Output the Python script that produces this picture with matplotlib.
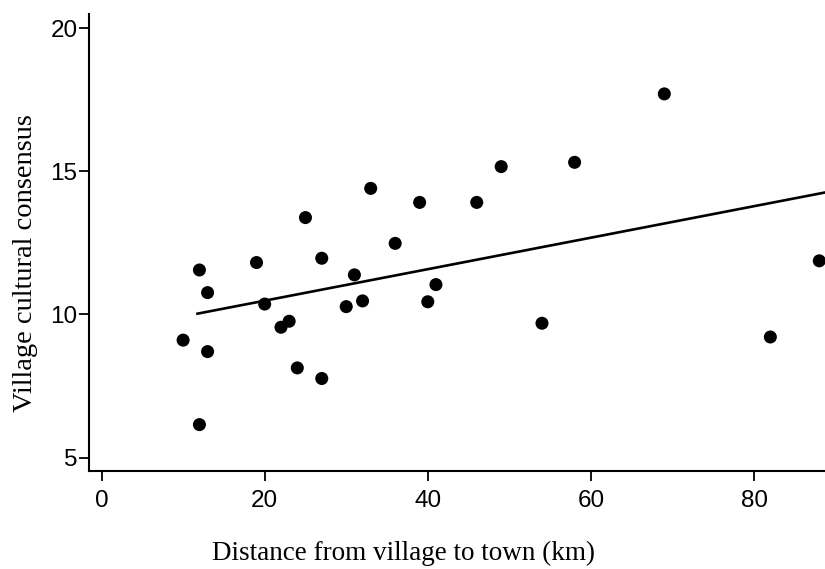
import numpy as np
import matplotlib
matplotlib.use("Agg")
import matplotlib.pyplot as plt

distance_km = [10, 12, 12, 13, 13, 19, 20, 22, 23, 24, 25, 27, 27, 30, 31, 32,
               33, 36, 39, 40, 41, 46, 49, 54, 58, 69, 82, 88]
consensus = [9.10, 11.55, 6.15, 10.76, 8.70, 11.81, 10.36, 9.55, 9.76, 8.13,
             13.38, 11.96, 7.76, 10.27, 11.38, 10.47, 14.40, 12.48, 13.91,
             10.44, 11.04, 13.91, 15.16, 9.69, 15.31, 17.70, 9.21, 11.87]
fit_line_range = [11.6, 90]
x_ticks = [0, 20, 40, 60, 80]
y_ticks = [5, 10, 15, 20]

W, H = 825, 569
fig = plt.figure(figsize=(W / 100, H / 100), dpi=100)
ax = fig.add_axes([88.5 / W, 98 / H, (W - 88.5) / W, (471 - 14) / H])

x = np.array(distance_km)
y = np.array(consensus)
slope, intercept = np.polyfit(x, y, 1)
xl = np.array(fit_line_range)
ax.plot(xl, intercept + slope * xl, color="black", lw=1.9, solid_capstyle="butt")
ax.scatter(x, y, s=88, color="black", zorder=3, edgecolors="none")

ax.set_xlim(-1.6, 88.7)
ax.set_ylim(4.53, 20.49)
ax.set_xticks(x_ticks)
ax.set_yticks(y_ticks)
for s in ["top", "right"]:
    ax.spines[s].set_visible(False)
for s in ["left", "bottom"]:
    ax.spines[s].set_linewidth(1.5)
ax.tick_params(axis="both", direction="out", length=7, width=1.3,
               labelsize=17.5, labelfontfamily="Liberation Sans")
ax.tick_params(axis="y", pad=1)
ax.tick_params(axis="x", pad=7)

fig.text(404 / W, 1 - 553 / H, "Distance from village to town (km)",
         family="Liberation Serif", fontsize=19.5, ha="center", va="center")
fig.text(26 / W, 1 - 263 / H, "Village cultural consensus",
         family="Liberation Serif", fontsize=20.5, ha="center", va="center",
         rotation=90)

fig.savefig("out.png", dpi=100)
